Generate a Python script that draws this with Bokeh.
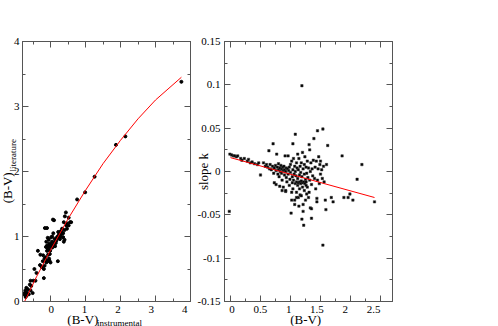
import math
from bokeh.plotting import figure
from bokeh.layouts import row, column
from bokeh.models import FixedTicker, LinearAxis, CustomJSTickFormatter, Range1d
from bokeh.core.properties import value
from bokeh.embed import file_html
from bokeh.resources import INLINE

# ---------------- data: left panel ----------------
lit_points = [
    (3.74, 3.38), (2.14, 2.54), (1.87, 2.41), (1.26, 1.92), (0.99, 1.68), (0.76, 1.57),
    (0.44, 1.37), (0.52, 1.29), (0.41, 1.31), (0.56, 1.22), (0.59, 1.22), (0.52, 1.17),
    (0.45, 1.17), (0.48, 1.20), (0.38, 1.22), (0.47, 1.12), (0.40, 1.10), (0.36, 1.05),
    (0.33, 1.05), (0.36, 0.99), (0.40, 0.95), (0.38, 0.92), (0.29, 1.08), (0.27, 0.96),
    (0.24, 1.02), (0.30, 1.00), (0.31, 1.07), (0.26, 1.05), (0.22, 1.07), (0.20, 1.00),
    (0.17, 0.94), (0.18, 0.98), (0.14, 0.92), (0.10, 0.91), (0.12, 0.96), (0.10, 0.86),
    (0.06, 0.87), (0.07, 1.26), (0.10, 1.25), (0.08, 1.05), (0.05, 1.00), (0.02, 0.99),
    (0.02, 0.84), (0.05, 0.83), (0.00, 0.88), (-0.04, 0.89), (-0.02, 0.85), (-0.05, 0.80),
    (-0.08, 0.82), (-0.10, 0.86), (-0.13, 0.84), (-0.10, 0.78), (-0.07, 0.72), (-0.05, 0.95),
    (-0.08, 0.98), (-0.12, 0.92), (-0.16, 1.13), (-0.10, 1.13), (0.21, 0.62), (-0.03, 0.63),
    (0.00, 0.60), (-0.36, 0.78), (-0.29, 0.72), (-0.21, 0.71), (-0.17, 0.66), (-0.11, 0.63),
    (-0.14, 0.68), (-0.22, 0.62), (-0.25, 0.53), (-0.19, 0.50), (-0.17, 0.55), (-0.12, 0.60),
    (-0.08, 0.62), (-0.04, 0.66), (-0.02, 0.73), (-0.30, 0.56), (-0.46, 0.50), (-0.19, 0.36),
    (-0.49, 0.32), (-0.43, 0.32), (-0.57, 0.32), (-0.59, 0.26), (-0.40, 0.44), (-0.69, 0.21),
    (-0.72, 0.17), (-0.67, 0.14), (-0.74, 0.13), (-0.57, 0.17), (-0.62, 0.11), (-0.69, 0.09),
    (-0.73, 0.10), (-0.65, 0.19), (-0.51, 0.13), (-0.71, 0.07), (-0.55, 0.24), (0.15, 0.90),
    (0.25, 0.98), (0.33, 1.12), (0.28, 1.03), (0.13, 0.85), (-0.01, 0.78), (0.04, 0.92),
]
inst_x = [p[0] for p in lit_points]
lit_y = [p[1] for p in lit_points]

fit_x = [-0.74, -0.4, 0.0, 0.5, 1.0, 1.5, 2.0, 2.5, 3.0, 3.74]
fit_y = [0.0, 0.38, 0.79, 1.27, 1.71, 2.12, 2.48, 2.81, 3.10, 3.45]

left_xticks = [0, 1, 2, 3, 4]
left_xminor = [-0.5, 0.5, 1.5, 2.5, 3.5]
left_xlabels = ["0", "1", "2", "3", "4"]
left_yticks = [0, 1, 2, 3, 4]
left_yminor = [0.5, 1.5, 2.5, 3.5]
left_ylabels = ["0", "1", "2", "3", "4"]

# ---------------- data: right panel ----------------
slope_points = [
    (-0.02, -0.046),
    (-0.01, 0.020), (0.02, 0.019), (0.05, 0.018), (0.07, 0.018), (0.10, 0.017), (0.12, 0.018),
    (0.17, 0.015), (0.19, 0.013), (0.23, 0.015), (0.28, 0.012), (0.30, 0.014), (0.33, 0.010),
    (0.36, 0.011), (0.40, 0.009), (0.45, 0.008), (0.50, -0.004), (0.47, 0.010),
    (0.55, 0.010), (0.58, 0.006), (0.60, 0.008), (0.62, 0.005), (0.64, 0.024), (0.65, 0.003),
    (0.66, 0.008), (0.68, 0.002), (0.70, 0.006), (0.71, 0.032), (0.72, -0.002), (0.73, 0.004),
    (0.73, -0.013), (0.75, 0.007), (0.76, 0.001), (0.77, 0.020), (0.78, 0.005), (0.79, -0.003),
    (0.80, 0.009), (0.80, 0.002), (0.81, -0.006), (0.82, 0.004), (0.83, 0.000), (0.84, 0.007),
    (0.85, -0.002), (0.85, 0.003), (0.86, -0.010), (0.87, 0.005), (0.88, 0.001), (0.88, -0.018),
    (0.89, 0.006), (0.90, -0.004), (0.90, 0.002), (0.91, 0.018), (0.92, -0.023), (0.92, 0.000),
    (0.93, 0.004), (0.93, -0.007), (0.94, -0.012), (0.95, 0.003), (0.96, 0.018), (0.96, -0.003),
    (0.97, 0.001), (0.98, -0.016), (0.98, 0.005), (0.76, -0.015), (0.82, -0.017), (0.86, -0.022),
    (1.00, -0.001), (1.00, 0.008), (1.01, -0.048), (1.02, -0.033), (1.02, -0.024), (1.02, 0.012),
    (1.03, -0.006), (1.04, 0.032), (1.04, -0.020), (1.04, 0.002), (1.05, -0.010), (1.05, 0.015),
    (1.06, -0.003), (1.07, -0.038), (1.07, 0.006), (1.08, 0.043), (1.08, -0.014), (1.08, 0.000),
    (1.09, -0.005), (1.10, 0.010), (1.10, -0.012), (1.11, 0.004), (1.12, 0.020), (1.12, -0.008),
    (1.13, -0.013), (1.13, 0.002), (1.14, -0.040), (1.14, 0.015), (1.15, -0.004), (1.15, -0.012),
    (1.16, 0.006), (1.16, -0.027), (1.17, -0.001), (1.17, -0.014), (1.18, 0.010), (1.18, -0.011),
    (1.19, 0.099), (1.19, -0.055), (1.19, -0.006), (1.20, 0.022), (1.20, -0.013), (1.21, -0.038),
    (1.21, -0.046), (1.21, 0.003), (1.22, -0.062), (1.22, -0.012), (1.23, 0.008), (1.23, -0.003),
    (1.24, 0.017), (1.24, -0.014), (1.25, -0.033), (1.25, -0.009), (1.26, 0.005), (1.26, -0.012),
    (1.27, -0.002), (1.28, 0.012), (1.28, -0.018), (1.29, -0.007), (1.30, 0.004), (1.31, 0.031),
    (1.31, -0.024), (1.32, 0.025), (1.32, -0.010), (1.33, -0.042), (1.33, 0.000), (1.34, 0.010),
    (1.35, -0.043), (1.35, -0.054), (1.35, -0.015), (1.36, 0.003), (1.37, -0.005), (1.38, 0.013),
    (1.39, 0.038), (1.40, -0.008), (1.41, 0.005), (1.42, -0.020), (1.43, 0.012), (1.44, -0.031),
    (1.44, -0.035), (1.45, 0.047), (1.45, -0.010), (1.46, 0.003), (1.47, 0.017), (1.48, -0.014),
    (1.49, 0.008), (1.50, -0.003), (1.50, 0.012), (1.10, -0.024), (1.18, -0.028), (1.27, -0.026),
    (1.13, -0.030), (1.30, -0.030), (1.23, -0.022), (1.07, -0.033), (1.10, -0.030), (0.92, -0.022),
    (1.15, -0.020), (1.20, -0.018), (1.26, -0.016), (1.12, -0.016), (1.03, -0.013), (0.99, -0.009),
    (1.52, 0.002), (1.53, -0.008), (1.54, 0.049), (1.54, -0.085), (1.55, 0.006), (1.56, -0.012),
    (1.58, -0.033), (1.59, -0.044), (1.60, 0.008), (1.62, 0.030), (1.68, -0.030), (1.71, -0.035),
    (1.86, 0.018), (1.89, -0.030), (1.96, -0.030), (1.99, -0.026), (2.04, -0.033), (2.11, -0.009),
    (2.19, 0.008), (2.40, -0.035),
]
bv_x = [p[0] for p in slope_points]
slope_k = [p[1] for p in slope_points]

kfit_x = [0.0, 2.4]
kfit_y = [0.016, -0.030]

right_xticks = [0, 0.5, 1, 1.5, 2, 2.5]
right_xminor = [0.25, 0.75, 1.25, 1.75, 2.25]
right_xlabels = ["0", "0.5", "1", "1.5", "2", "2.5"]
right_yticks = [-0.15, -0.1, -0.05, 0, 0.05, 0.1, 0.15]
right_yminor = [-0.125, -0.075, -0.025, 0.025, 0.075, 0.125]
right_ylabels = ["-0.15", "-0.1", "-0.05", "0", "0.05", "0.1", "0.15"]

# ---------------- styling / geometry ----------------
FONT = "Liberation Serif"
FRAME = "#555555"
TOP, FH, FW, BOT = 41, 260, 168, 1
STRIP_H = 24           # strip under each panel holding x tick labels and x title
TOTAL_H = TOP + FH + BOT + STRIP_H
SL_W, SM_W = 20, 26     # side strips holding y tick labels and y titles
P1_BL, P1_BR = 2, 6
P2_BL, P2_BR = 2, 8

L_XR, L_YR = (-0.8, 4.0), (0.0, 4.0)
R_XR, R_YR = (-0.1, 2.7), (-0.15, 0.15)


def style_axis(ax, ticker):
    ax.ticker = ticker
    ax.axis_line_color = FRAME
    ax.axis_line_width = 1
    ax.major_tick_line_color = FRAME
    ax.minor_tick_line_color = FRAME
    ax.major_tick_in = 6
    ax.major_tick_out = 0
    ax.minor_tick_in = 3
    ax.minor_tick_out = 0
    ax.formatter = CustomJSTickFormatter(code="return ''")
    ax.major_label_standoff = 0
    ax.major_label_text_font_size = "0px"


def make_panel(xr, yr, xt, xm, yt, ym, bl, br):
    p = figure(output_backend="svg", toolbar_location=None, title=None,
               frame_width=FW, frame_height=FH,
               x_range=Range1d(*xr), y_range=Range1d(*yr),
               min_border_left=bl, min_border_right=br,
               min_border_top=TOP, min_border_bottom=BOT)
    p.grid.visible = False
    p.outline_line_color = FRAME
    p.outline_line_width = 1
    p.background_fill_color = None
    p.border_fill_color = None
    style_axis(p.xaxis[0], FixedTicker(ticks=xt, minor_ticks=xm))
    style_axis(p.yaxis[0], FixedTicker(ticks=yt, minor_ticks=ym))
    top = LinearAxis()
    style_axis(top, FixedTicker(ticks=xt, minor_ticks=xm))
    p.add_layout(top, "above")
    rgt = LinearAxis()
    style_axis(rgt, FixedTicker(ticks=yt, minor_ticks=ym))
    p.add_layout(rgt, "right")
    return p


def make_strip(w, h, xr, yr):
    s = figure(output_backend="svg", toolbar_location=None, title=None,
               width=w, height=h, x_range=Range1d(*xr), y_range=Range1d(*yr),
               min_border=0, x_axis_location=None, y_axis_location=None)
    s.grid.visible = False
    s.outline_line_color = None
    s.background_fill_color = None
    s.border_fill_color = None
    return s


def txt(fig, xs, ys, texts, size, align="left", angle=0.0):
    fig.text(x=xs, y=ys, text=texts, angle=angle,
             text_font=value(FONT), text_font_size=value(size),
             text_align=align, text_baseline="middle", text_color="black")


def extend(rng, lo_px, hi_px, length_px):
    per = (rng[1] - rng[0]) / length_px
    return (rng[0] - lo_px * per, rng[1] + hi_px * per)


# left panel
p1 = make_panel(L_XR, L_YR, left_xticks, left_xminor, left_yticks, left_yminor, P1_BL, P1_BR)
p1.scatter(inst_x, lit_y, marker="circle", size=3.0, color="black")
p1.line(fit_x, fit_y, line_color="#ff0000", line_width=1)

# right panel
p2 = make_panel(R_XR, R_YR, right_xticks, right_xminor, right_yticks, right_yminor, P2_BL, P2_BR)
p2.scatter(bv_x, slope_k, marker="square", size=2.4, fill_color="black",
           line_color="#333333", line_width=0.5)
p2.line(kfit_x, kfit_y, line_color="#ff0000", line_width=1)

# strip left of panel 1: y tick labels and y title (shares panel 1's vertical scale)
sl = make_strip(SL_W, TOTAL_H, (0, SL_W), extend(L_YR, BOT + STRIP_H, TOP, FH))
txt(sl, [SL_W - 1] * len(left_yticks), left_yticks, left_ylabels, "11px", align="right")
txt(sl, [6.5], [1.51], ["(B-V)"], "13px", angle=math.pi / 2)
txt(sl, [12.5], [2.0], ["literature"], "9px", angle=math.pi / 2)

# strip under panel 1: x tick labels and x title (shares panel 1's horizontal scale)
b1 = make_strip(P1_BL + FW + P1_BR, STRIP_H, extend(L_XR, P1_BL, P1_BR, FW), (0, STRIP_H))
txt(b1, left_xticks, [17] * len(left_xticks), left_xlabels, "11px", align="center")
txt(b1, [0.486], [7], ["(B-V)"], "13px")
txt(b1, [1.37], [4], ["instrumental"], "9px")

# strip between panels: panel 2's y tick labels and y title
sm = make_strip(SM_W, TOTAL_H, (0, SM_W), extend(R_YR, BOT + STRIP_H, TOP, FH))
txt(sm, [SM_W - 2] * len(right_yticks), right_yticks, right_ylabels, "11px", align="right")
txt(sm, [7], [0.0], ["slope k"], "13px", align="center", angle=math.pi / 2)

# strip under panel 2
b2 = make_strip(P2_BL + FW + P2_BR, STRIP_H, extend(R_XR, P2_BL, P2_BR, FW), (0, STRIP_H))
txt(b2, right_xticks, [17] * len(right_xticks), right_xlabels, "11px", align="center")
txt(b2, [1.30], [7], ["(B-V)"], "13px", align="center")

layout = row(sl, column(p1, b1), sm, column(p2, b2))
open("out.html", "w").write(file_html(layout, INLINE))
